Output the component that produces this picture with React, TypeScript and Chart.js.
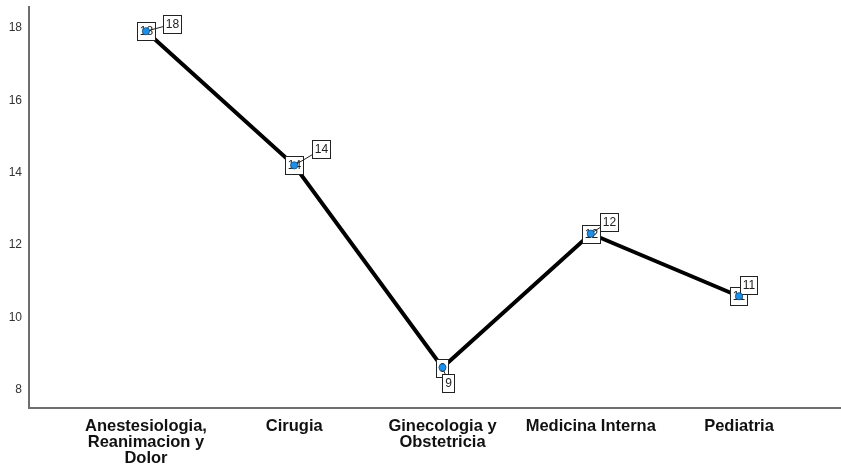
import React, { useEffect, useRef } from "react";
import { Chart, registerables } from "chart.js";

Chart.register(...registerables);

const categories: (string | string[])[] = [
  ["Anestesiologia,", "Reanimacion y", "Dolor"],
  "Cirugia",
  ["Ginecologia y", "Obstetricia"],
  "Medicina Interna",
  "Pediatria",
];
const values = [17.91, 14.2, 8.61, 12.31, 10.58];
const pointLabels = ["18", "14", "9", "12", "11"];
const yTicks = [8, 10, 12, 14, 16, 18];

const FONT = '"Liberation Sans", Arial, sans-serif';
// label box offsets (style only)
const labelOffsets: [number, number][] = [
  [26, -7],
  [27, -16],
  [6, 15],
  [18, -12],
  [10, -11],
];

const labelPlugin = {
  id: "pointLabelBoxes",
  afterDatasetsDraw(chart: any) {
    const ctx = chart.ctx as CanvasRenderingContext2D;
    const xs = chart.scales.x;
    const ys = chart.scales.y;
    ctx.save();
    ctx.font = `12px ${FONT}`;
    ctx.textAlign = "center";
    ctx.textBaseline = "middle";
    const drawBox = (cx: number, cy: number, text: string) => {
      const w = Math.round(ctx.measureText(text).width + 5);
      const h = 18;
      const x0 = Math.round(cx - w / 2) + 0.5;
      const y0 = Math.round(cy - h / 2) + 0.5;
      ctx.fillStyle = "#ffffff";
      ctx.fillRect(x0, y0, w, h);
      ctx.strokeStyle = "#222222";
      ctx.lineWidth = 1;
      ctx.strokeRect(x0, y0, w, h);
      ctx.fillStyle = "#222222";
      ctx.fillText(text, x0 + w / 2, y0 + h / 2 + 0.5);
    };
    values.forEach((v, i) => {
      const px = xs.getPixelForValue(i);
      const py = ys.getPixelForValue(v);
      drawBox(px, py, pointLabels[i]);
      const [dx, dy] = labelOffsets[i];
      ctx.beginPath();
      ctx.moveTo(px, py);
      ctx.lineTo(px + dx, py + dy);
      ctx.strokeStyle = "#222222";
      ctx.lineWidth = 1;
      ctx.stroke();
      drawBox(px + dx, py + dy, pointLabels[i]);
      ctx.beginPath();
      ctx.arc(px, py, 3.6, 0, Math.PI * 2);
      ctx.fillStyle = "#1f8fe6";
      ctx.fill();
      ctx.strokeStyle = "#0d4f8c";
      ctx.lineWidth = 0.8;
      ctx.stroke();
    });
    ctx.restore();
  },
};

export default function App() {
  const ref = useRef<HTMLCanvasElement | null>(null);
  useEffect(() => {
    document.body.style.margin = "0";
    const canvas = ref.current!;
    const chart = new Chart(canvas, {
      type: "line",
      data: {
        datasets: [
          {
            data: values.map((v, i) => ({ x: i, y: v })),
            borderColor: "#000000",
            borderWidth: 4,
            pointRadius: 0,
            tension: 0,
          },
        ],
      },
      options: {
        animation: false,
        responsive: false,
        devicePixelRatio: 1,
        layout: { padding: { top: 7, left: 0, right: 0, bottom: 0 } },
        plugins: { legend: { display: false }, tooltip: { enabled: false } },
        scales: {
          x: {
            type: "linear",
            min: -0.789,
            max: 4.688,
            grid: { display: false, drawTicks: false },
            border: { display: true, color: "#6e6e6e", width: 2 },
            afterBuildTicks: (scale: any) => {
              scale.ticks = categories.map((_, i) => ({ value: i }));
            },
            afterFit: (scale: any) => {
              scale.height = 60;
              scale.paddingLeft = 0;
              scale.paddingRight = 0;
            },
            ticks: {
              autoSkip: false,
              maxRotation: 0,
              minRotation: 0,
              padding: 10,
              color: "#111111",
              font: { family: FONT, size: 16.5, weight: "bold", lineHeight: "16px" } as any,
              callback: (val: any) => categories[Math.round(val)] as any,
            },
          },
          y: {
            type: "linear",
            min: 7.49,
            max: 18.58,
            grid: { display: false, drawTicks: false },
            border: { display: true, color: "#6e6e6e", width: 2 },
            afterBuildTicks: (scale: any) => {
              scale.ticks = yTicks.map((v) => ({ value: v }));
            },
            afterFit: (scale: any) => {
              scale.width = 29;
              scale.paddingTop = 0;
              scale.paddingBottom = 0;
            },
            ticks: {
              padding: 7,
              color: "#333333",
              font: { family: FONT, size: 12 },
              callback: (val: any) => String(val),
            },
          },
        },
      },
      plugins: [labelPlugin],
    });
    return () => chart.destroy();
  }, []);
  return (
    <div style={{ position: "fixed", left: 0, top: 0, width: 841, height: 468 }}>
      <canvas ref={ref} width={841} height={468} style={{ display: "block" }} />
    </div>
  );
}
